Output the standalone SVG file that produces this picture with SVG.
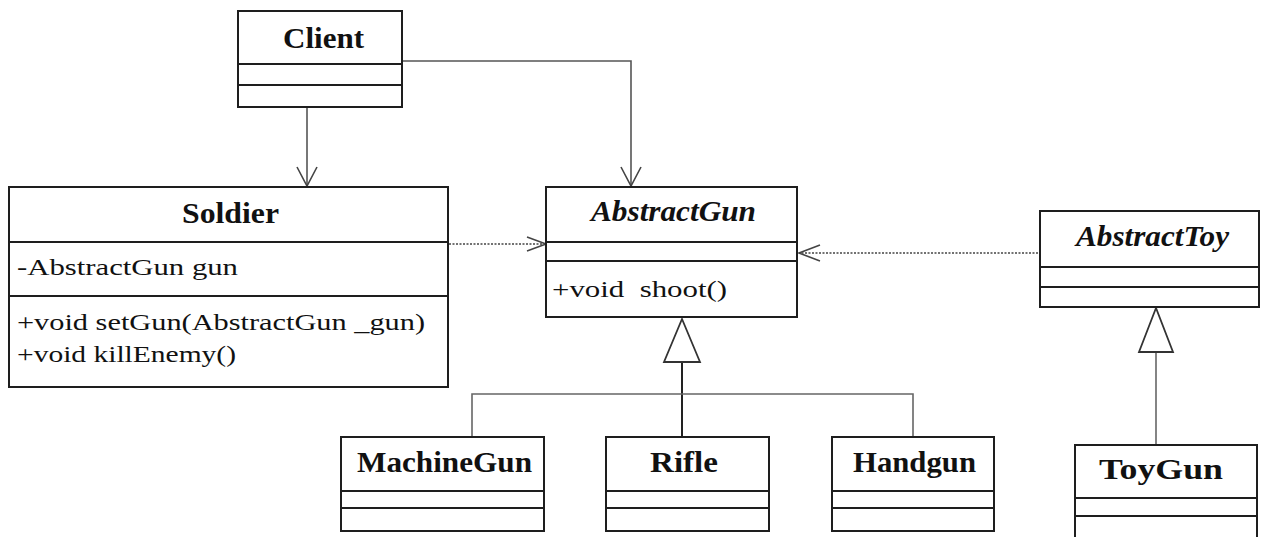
<svg xmlns="http://www.w3.org/2000/svg" width="1265" height="537" viewBox="0 0 1265 537">
  <defs>
    <style>
      .box { fill: #ffffff; stroke: #1e1e1e; stroke-width: 2; }
      .sep { stroke: #1e1e1e; stroke-width: 2; }
      .title { font-family: "Liberation Serif", "Times New Roman", serif; font-weight: bold; font-size: 29px; fill: #111; }
      .abstract { font-style: italic; }
      .member { font-family: "Liberation Serif", "Times New Roman", serif; font-size: 24px; fill: #111; white-space: pre; }
      .assoc { fill: none; stroke: #555; stroke-width: 1.6; }
      .dep { fill: none; stroke: #444; stroke-width: 1.6; stroke-dasharray: 2 1.5; }
      .head { fill: none; stroke: #444; stroke-width: 1.6; }
      .tri { fill: #ffffff; stroke: #333; stroke-width: 1.8; }
      .gen { fill: none; stroke: #666; stroke-width: 1.6; }
      .genmain { fill: none; stroke: #222; stroke-width: 2; }
    </style>
  </defs>
  <rect width="1265" height="537" fill="#ffffff"/>

  <!-- connectors -->
  <g id="connectors">
    <!-- Client -> Soldier -->
    <line class="assoc" x1="307" y1="107" x2="307" y2="186"/>
    <polyline class="head" points="297,167 307,186 317,167"/>
    <!-- Client -> AbstractGun -->
    <polyline class="assoc" points="402,61 631,61 631,186"/>
    <polyline class="head" points="621,167 631,186 641,167"/>
    <!-- Soldier ..> AbstractGun -->
    <line class="dep" x1="449" y1="244" x2="545" y2="244"/>
    <polyline class="head" points="527,237 546,244 527,251"/>
    <!-- AbstractToy ..> AbstractGun -->
    <line class="dep" x1="1038" y1="253" x2="799" y2="253"/>
    <polyline class="head" points="820,245 799,253 820,261"/>
    <!-- Generalization: guns -> AbstractGun -->
    <line class="genmain" x1="682" y1="362" x2="682" y2="437"/>
    <polyline class="gen" points="472,437 472,394 913,394 913,437"/>
    <polygon class="tri" points="682,319 664,362 700,362"/>
    <!-- Generalization: ToyGun -> AbstractToy -->
    <line class="gen" x1="1156" y1="352" x2="1156" y2="445"/>
    <polygon class="tri" points="1156,308 1139,352 1173,352"/>
  </g>

  <g id="client">
    <rect class="box" x="238" y="11" width="164" height="96"/>
    <line class="sep" x1="238" y1="64" x2="402" y2="64"/>
    <line class="sep" x1="238" y1="85" x2="402" y2="85"/>
    <text class="title" x="283" y="48" textLength="81" lengthAdjust="spacingAndGlyphs">Client</text>
  </g>

  <g id="soldier">
    <rect class="box" x="9" y="187" width="439" height="200"/>
    <line class="sep" x1="9" y1="242" x2="448" y2="242"/>
    <line class="sep" x1="9" y1="296" x2="448" y2="296"/>
    <text class="title" x="182" y="223" textLength="97" lengthAdjust="spacingAndGlyphs">Soldier</text>
    <text class="member" x="17" y="275" textLength="221" lengthAdjust="spacingAndGlyphs">-AbstractGun gun</text>
    <text class="member" x="17" y="330" textLength="408" lengthAdjust="spacingAndGlyphs">+void setGun(AbstractGun _gun)</text>
    <text class="member" x="17" y="362" textLength="219" lengthAdjust="spacingAndGlyphs">+void killEnemy()</text>
  </g>

  <g id="abstract-gun">
    <rect class="box" x="546" y="187" width="251" height="130"/>
    <line class="sep" x1="546" y1="242" x2="797" y2="242"/>
    <line class="sep" x1="546" y1="261" x2="797" y2="261"/>
    <text class="title abstract" x="591" y="221" textLength="165" lengthAdjust="spacingAndGlyphs">AbstractGun</text>
    <text class="member" x="552" y="297" textLength="175" lengthAdjust="spacingAndGlyphs" xml:space="preserve">+void  shoot()</text>
  </g>

  <g id="abstract-toy">
    <rect class="box" x="1040" y="211" width="219" height="96"/>
    <line class="sep" x1="1040" y1="267" x2="1259" y2="267"/>
    <line class="sep" x1="1040" y1="287" x2="1259" y2="287"/>
    <text class="title abstract" x="1076" y="246" textLength="153" lengthAdjust="spacingAndGlyphs">AbstractToy</text>
  </g>

  <g id="machine-gun">
    <rect class="box" x="341" y="437" width="203" height="94"/>
    <line class="sep" x1="341" y1="491" x2="544" y2="491"/>
    <line class="sep" x1="341" y1="508" x2="544" y2="508"/>
    <text class="title" x="357" y="472" textLength="175" lengthAdjust="spacingAndGlyphs">MachineGun</text>
  </g>

  <g id="rifle">
    <rect class="box" x="606" y="437" width="163" height="94"/>
    <line class="sep" x1="606" y1="491" x2="769" y2="491"/>
    <line class="sep" x1="606" y1="508" x2="769" y2="508"/>
    <text class="title" x="650" y="472" textLength="68" lengthAdjust="spacingAndGlyphs">Rifle</text>
  </g>

  <g id="handgun">
    <rect class="box" x="832" y="437" width="162" height="94"/>
    <line class="sep" x1="832" y1="491" x2="994" y2="491"/>
    <line class="sep" x1="832" y1="508" x2="994" y2="508"/>
    <text class="title" x="853" y="472" textLength="123" lengthAdjust="spacingAndGlyphs">Handgun</text>
  </g>

  <g id="toy-gun">
    <rect class="box" x="1075" y="445" width="182" height="100"/>
    <line class="sep" x1="1075" y1="498" x2="1257" y2="498"/>
    <line class="sep" x1="1075" y1="516" x2="1257" y2="516"/>
    <text class="title" x="1099" y="479" textLength="124" lengthAdjust="spacingAndGlyphs">ToyGun</text>
  </g>
</svg>
